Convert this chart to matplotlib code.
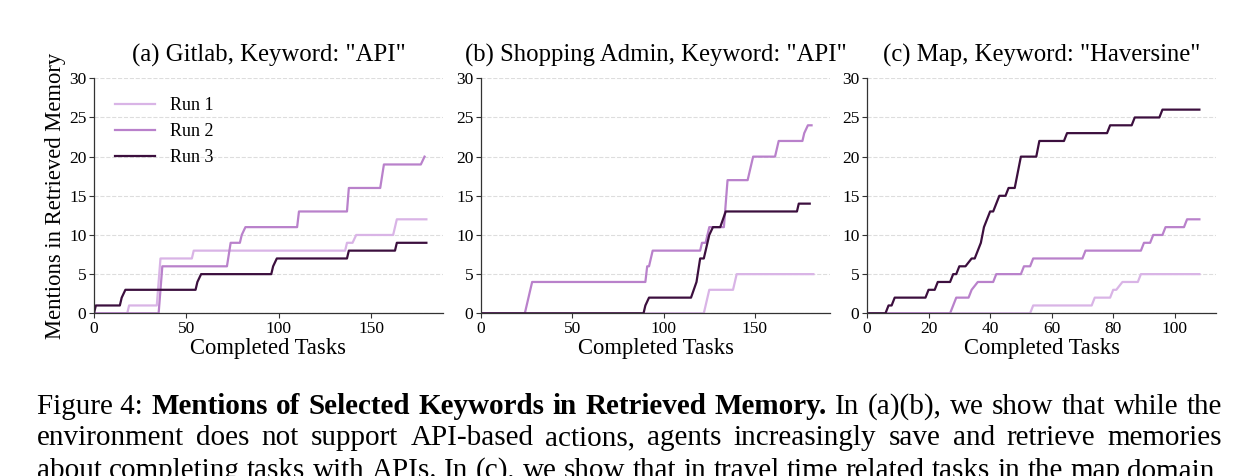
import matplotlib.pyplot as plt
import numpy as np

# (task, cumulative mentions) break points
gitlab_run1_x = [0, 18, 19, 34, 36, 53, 54, 136, 137, 140, 142, 162, 164, 180]
gitlab_run1_y = [0, 0, 1, 1, 7, 7, 8, 8, 9, 9, 10, 10, 12, 12]
gitlab_run2_x = [0, 35, 37, 72, 74, 79, 80, 82, 110, 111, 137, 138, 155, 157, 177, 179]
gitlab_run2_y = [0, 0, 6, 6, 9, 9, 10, 11, 11, 13, 13, 16, 16, 19, 19, 20]
gitlab_run3_x = [0, 1, 14, 15, 17, 55, 56, 58, 96, 97, 99, 137, 138, 163, 164, 180]
gitlab_run3_y = [0, 1, 1, 2, 3, 3, 4, 5, 5, 6, 7, 7, 8, 8, 9, 9]

shop_run1_x = [0, 122, 124, 125, 138, 140, 182]
shop_run1_y = [0, 0, 2, 3, 3, 5, 5]
shop_run2_x = [0, 24, 26, 28, 90, 91, 92, 94, 120, 121, 123, 125, 133, 135, 146, 149, 161, 163, 176, 177, 179, 181]
shop_run2_y = [0, 0, 2, 4, 4, 6, 6, 8, 8, 9, 9, 11, 11, 17, 17, 20, 20, 22, 22, 23, 24, 24]
shop_run3_x = [0, 89, 90, 92, 115, 118, 120, 122, 123, 124, 125, 127, 131, 134, 173, 174, 180]
shop_run3_y = [0, 0, 1, 2, 2, 4, 7, 7, 8, 9, 10, 11, 11, 13, 13, 14, 14]

map_run1_x = [0, 53, 54, 73, 74, 79, 80, 81, 83, 88, 89, 108]
map_run1_y = [0, 0, 1, 1, 2, 2, 3, 3, 4, 4, 5, 5]
map_run2_x = [0, 27, 29, 33, 34, 36, 41, 42, 50, 51, 53, 54, 70, 71, 89, 90, 92, 93, 96, 97, 103, 104, 108]
map_run2_y = [0, 0, 2, 2, 3, 4, 4, 5, 5, 6, 6, 7, 7, 8, 8, 9, 9, 10, 10, 11, 11, 12, 12]
map_run3_x = [0, 6, 7, 8, 9, 19, 20, 22, 23, 27, 28, 29, 30, 32, 34, 35, 36, 37, 38, 39, 40, 41, 43,
              45, 46, 48, 49, 50, 55, 56, 64, 65, 78, 79, 86, 87, 95, 96, 108]
map_run3_y = [0, 0, 1, 1, 2, 2, 3, 3, 4, 4, 5, 5, 6, 6, 7, 7, 8, 9, 11, 12, 13, 13, 15,
              15, 16, 16, 18, 20, 20, 22, 22, 23, 23, 24, 24, 25, 25, 26, 26]

titles = ['(a) Gitlab, Keyword: "API"', '(b) Shopping Admin, Keyword: "API"', '(c) Map, Keyword: "Haversine"']
run_labels = ['Run 1', 'Run 2', 'Run 3']
colors = ['#d9b4e6', '#b981cb', '#3c0f3e']

panels = [
    [(gitlab_run1_x, gitlab_run1_y), (gitlab_run2_x, gitlab_run2_y), (gitlab_run3_x, gitlab_run3_y)],
    [(shop_run1_x, shop_run1_y), (shop_run2_x, shop_run2_y), (shop_run3_x, shop_run3_y)],
    [(map_run1_x, map_run1_y), (map_run2_x, map_run2_y), (map_run3_x, map_run3_y)],
]

plt.rcParams['font.family'] = 'Liberation Serif'
fig = plt.figure(figsize=(12.6, 4.76), dpi=100)

lefts = [94, 481, 867]
for i in range(3):
    ax = fig.add_axes([lefts[i] / 1260, 0.3418, 349 / 1260, 0.4937])
    for j, (xs, ys) in enumerate(panels[i]):
        ax.plot(xs, ys, color=colors[j], lw=1.6, label=run_labels[j])
    ax.set_xlim(left=0)
    ax.set_ylim(0, 30)
    ax.set_yticks([0, 5, 10, 15, 20, 25, 30])
    ax.grid(axis='y', linestyle='--', color='#dddddd', lw=0.8)
    ax.set_axisbelow(True)
    for s in ['top', 'right']:
        ax.spines[s].set_visible(False)
    for s in ['left', 'bottom']:
        ax.spines[s].set_color('#333333')
        ax.spines[s].set_linewidth(0.9)
    ax.tick_params(labelsize=12.5, length=3.5, width=0.8, color='#333333', pad=2)
    ax.set_title(titles[i], fontsize=17.8, pad=12)
    ax.set_xlabel('Completed Tasks', fontsize=16.3, labelpad=1)
    if i == 0:
        ax.set_ylabel('Mentions in Retrieved Memory', fontsize=16.3, labelpad=2)
        ax.legend(loc='upper left', frameon=False, fontsize=13, handlelength=2.2,
                  handletextpad=0.8, labelspacing=0.5, bbox_to_anchor=(0.015, 0.99))

# caption, justified word by word (last line is cut by the page edge, as in the source)
caption_lines = [
    [('Figure 4:', False), ('Mentions', True), ('of', True), ('Selected', True), ('Keywords', True),
     ('in', True), ('Retrieved', True), ('Memory.', True), ('In', False), ('(a)(b),', False),
     ('we', False), ('show', False), ('that', False), ('while', False), ('the', False)],
    [(w, False) for w in 'environment does not support API-based actions, agents increasingly save and retrieve memories'.split()],
    [(w, False) for w in 'about completing tasks with APIs. In (c), we show that in travel time related tasks in the map domain,'.split()],
]
baselines = [414, 445, 478]
x0, x1 = 37, 1222
fig.canvas.draw()
renderer = fig.canvas.get_renderer()
for line, yb in zip(caption_lines, baselines):
    texts = []
    for w, bold in line:
        t = fig.text(0, 1 - yb / 476, w, fontsize=21, va='baseline', ha='left',
                     fontweight='bold' if bold else 'normal')
        texts.append(t)
    widths = [t.get_window_extent(renderer).width for t in texts]
    gap = (x1 - x0 - sum(widths)) / (len(texts) - 1)
    x = x0
    for t, wd in zip(texts, widths):
        t.set_x(x / 1260)
        x += wd + gap

fig.savefig('out.png', dpi=100)
